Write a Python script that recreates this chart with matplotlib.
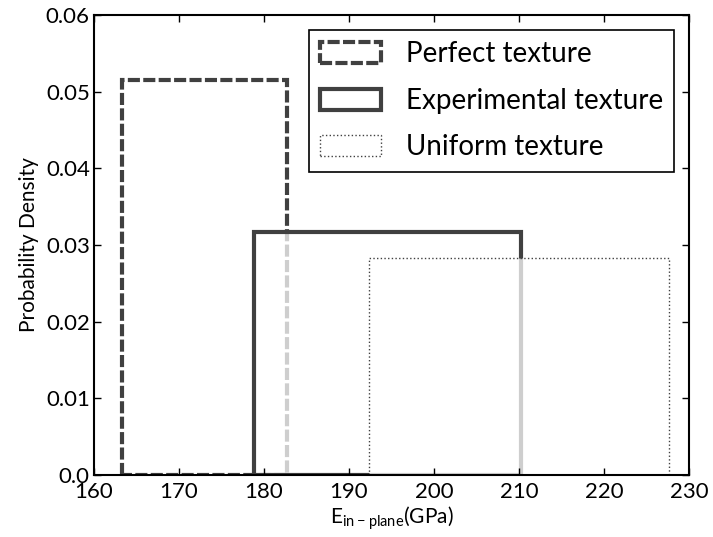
import numpy as np
import matplotlib
matplotlib.use('Agg')
import matplotlib.pyplot as plt

# single-bin densities (bin edges in GPa, height = probability density)
perfect_edges = [163.3, 182.7]
perfect_density = [0.0515]
experimental_edges = [178.8, 210.2]
experimental_density = [0.0317]
uniform_edges = [192.4, 227.7]
uniform_density = [0.0283]

labels = ['Perfect texture', 'Experimental texture', 'Uniform texture']

xticks = [160, 170, 180, 190, 200, 210, 220, 230]
yticks = [0.0, 0.01, 0.02, 0.03, 0.04, 0.05, 0.06]
yticklabels = ['0.0', '0.01', '0.02', '0.03', '0.04', '0.05', '0.06']

plt.rcParams['font.family'] = ['Lato', 'DejaVu Sans']
plt.rcParams['mathtext.default'] = 'regular'
plt.rcParams['axes.linewidth'] = 1.5

edge = '#404040'
face = (1, 1, 1, 0.75)

fig = plt.figure(figsize=(7.13, 5.37), dpi=100)
ax = fig.add_axes([94/713, 1 - 475/537, 595/713, 460/537])

ax.hist(perfect_edges[:1], bins=perfect_edges, weights=perfect_density,
        histtype='stepfilled', facecolor=face, edgecolor=edge,
        linewidth=3, linestyle=(0, (2.9, 0.8)), label=labels[0])
ax.hist(experimental_edges[:1], bins=experimental_edges, weights=experimental_density,
        histtype='stepfilled', facecolor=face, edgecolor=edge,
        linewidth=3, linestyle='-', label=labels[1])
ax.hist(uniform_edges[:1], bins=uniform_edges, weights=uniform_density,
        histtype='stepfilled', facecolor=face, edgecolor=edge,
        linewidth=1.0, linestyle=':', label=labels[2])

ax.set_xlim(160, 230)
ax.set_ylim(0, 0.06)
ax.set_xticks(xticks)
ax.set_yticks(yticks)
ax.set_yticklabels(yticklabels)
ax.tick_params(direction='in', length=5, width=1, top=True, right=True,
               labelsize=16)
ax.tick_params(axis='x', pad=5)
ax.tick_params(axis='y', pad=3)

ax.set_xlabel('$E_{in-plane}$(GPa)', fontsize=15, labelpad=2)
ax.set_ylabel('Probability Density', fontsize=15, labelpad=5)

leg = ax.legend(loc='upper right', bbox_to_anchor=(0.975, 0.967), borderaxespad=0,
                fontsize=20, fancybox=False, framealpha=1, edgecolor='black',
                handlelength=2.2, handleheight=0.8, handletextpad=0.9,
                labelspacing=0.74, borderpad=0.4)
leg.get_frame().set_linewidth(1.2)

fig.savefig('out.png', dpi=100)
